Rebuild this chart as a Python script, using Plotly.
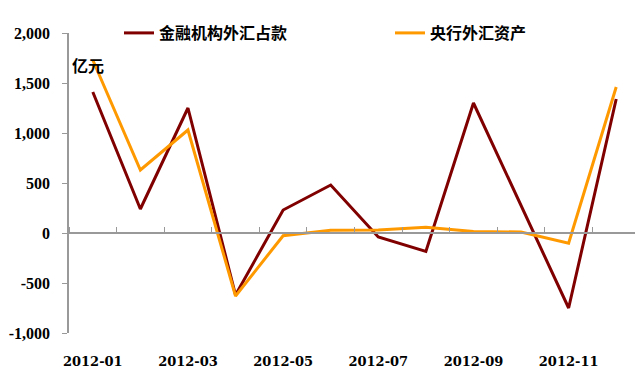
import plotly.graph_objects as go

months = ["2012-01", "2012-02", "2012-03", "2012-04", "2012-05", "2012-06",
          "2012-07", "2012-08", "2012-09", "2012-10", "2012-11", "2012-12"]
fin_fx = [1410, 240, 1250, -620, 230, 480, -40, -185, 1300, 275, -750, 1340]
cb_fx = [1730, 630, 1030, -630, -27, 27, 30, 57, 15, 10, -103, 1460]
name_fin = "金融机构外汇占款"
name_cb = "央行外汇资产"
y_tickvals = [-1000, -500, 0, 500, 1000, 1500, 2000]
y_ticktext = ["-1,000", "-500", "0", "500", "1,000", "1,500", "2,000"]
x_label_idx = [0, 2, 4, 6, 8, 10]

idx = list(range(len(months)))
font_main = "DejaVu Serif, Liberation Serif, serif"
font_y = "Liberation Serif, Times New Roman, serif"
font_cjk = "SimSun, Noto Sans CJK SC, sans-serif"

fig = go.Figure()
fig.add_trace(go.Scatter(x=idx, y=fin_fx, name=name_fin, mode="lines",
                         line=dict(color="#800000", width=3), legend="legend"))
fig.add_trace(go.Scatter(x=idx, y=cb_fx, name=name_cb, mode="lines",
                         line=dict(color="#FF9900", width=3), legend="legend2"))

leg_common = dict(orientation="h", yanchor="middle", xanchor="left",
                  font=dict(family=font_cjk, size=16, color="black", weight="bold"),
                  bgcolor="rgba(0,0,0,0)", borderwidth=0)

fig.update_layout(
    width=635, height=379,
    margin=dict(l=61, r=3, t=25, b=54, autoexpand=False),
    plot_bgcolor="white", paper_bgcolor="white",
    font=dict(family=font_main, size=13, color="black"),
    showlegend=True,
    legend=dict(x=(124 - 69 - 5) / 571, y=1.0, **leg_common),
    legend2=dict(x=(395 - 69 - 5) / 571, y=1.0, **leg_common),
    xaxis=dict(range=[-0.5, 11.5], tickmode="array", tickvals=x_label_idx,
               ticktext=[months[i] for i in x_label_idx], showline=False,
               showgrid=False, zeroline=False, ticks="", ticklabelstandoff=19,
               tickfont=dict(family=font_main, size=13, weight="bold")),
    xaxis2=dict(range=[-0.5, 11.5], overlaying="x", anchor="free", position=1/3,
                side="top", showline=True, linecolor="#999999", linewidth=1.5,
                ticks="outside", ticklen=5, tickcolor="#999999", tickwidth=1,
                tickmode="array", tickvals=[i - 0.5 for i in range(13)],
                showticklabels=False, showgrid=False, zeroline=False),
    yaxis=dict(range=[-1000, 2000], tickmode="array", tickvals=y_tickvals,
               ticktext=y_ticktext, showline=True, linecolor="#999999", linewidth=1.5,
               ticks="outside", ticklen=5, tickcolor="#999999",
               showgrid=False, zeroline=False, ticklabelstandoff=9,
               tickfont=dict(family=font_y, size=16, weight="bold")),
)
fig.add_trace(go.Scatter(x=[-0.5], y=[None], xaxis="x2", showlegend=False, hoverinfo="skip"))

fig.add_annotation(text="亿元", x=0.0, y=1820, xref="paper", yref="y",
                   xanchor="left", yanchor="top", showarrow=False, xshift=1,
                   font=dict(family=font_cjk, size=16, color="black", weight="bold"))

fig.write_html("out.html")
